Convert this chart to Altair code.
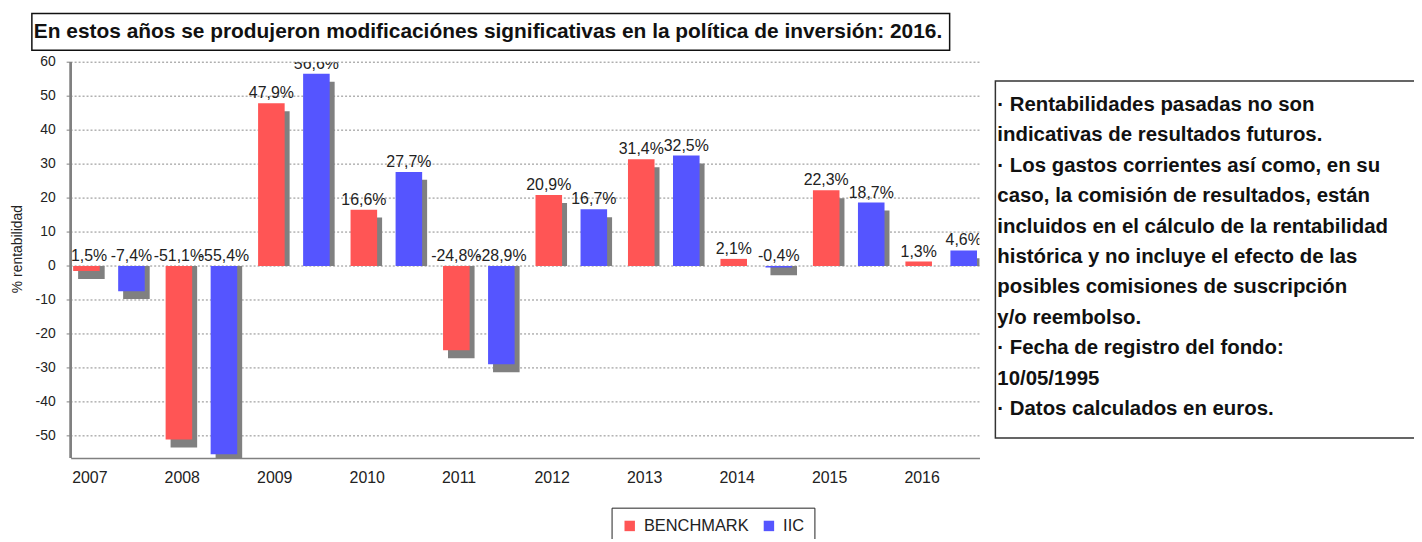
import altair as alt
import pandas as pd

# ---- data ----
years = ["2007", "2008", "2009", "2010", "2011", "2012", "2013", "2014", "2015", "2016"]
benchmark = [-1.5, -51.1, 47.9, 16.6, -24.8, 20.9, 31.4, 2.1, 22.3, 1.3]
iic = [-7.4, -55.4, 56.6, 27.7, -28.9, 16.7, 32.5, -0.4, 18.7, 4.6]
series_names = ["BENCHMARK", "IIC"]
series_colors = ["#FF5555", "#5555FF"]
y_ticks = [-50, -40, -30, -20, -10, 0, 10, 20, 30, 40, 50, 60]
y_title = "% rentabilidad"
title_text = "En estos años se produjeron modificaciónes significativas en la política de inversión: 2016."
notes = [
    "· Rentabilidades pasadas no son",
    "\u00a0indicativas de resultados futuros.",
    "· Los gastos corrientes así como, en su",
    "caso, la comisión de resultados, están",
    "\u00a0incluidos en el cálculo de la rentabilidad",
    "\u00a0histórica y no incluye el efecto de las",
    "\u00a0posibles comisiones de suscripción",
    "y/o reembolso.",
    "· Fecha de registro del fondo:",
    "\u00a010/05/1995",
    "· Datos calculados en euros.",
]

rows = []
for yr, b, i in zip(years, benchmark, iic):
    rows.append({"year": yr, "series": series_names[0], "value": b})
    rows.append({"year": yr, "series": series_names[1], "value": i})
df = pd.DataFrame(rows)
ticks_df = pd.DataFrame({"tick": y_ticks})

FONT = "Liberation Sans"
AXIS_GRAY = "#808080"

yscale = alt.Scale(domain=[-56.5, 60], nice=False, zero=False)
x_enc = alt.X(
    "year:N", sort=years,
    scale=alt.Scale(paddingInner=0.226, paddingOuter=0.027),
    axis=alt.Axis(title=None, labelAlign="left", labelAngle=0, labelOffset=-37,
                  ticks=False, labelPadding=12, labelFontSize=16, grid=False,
                  labelFont=FONT, labelColor="#222", domainColor=AXIS_GRAY, domainWidth=1.5),
)
xo_main = alt.XOffset("series:N", sort=series_names,
                      scale=alt.Scale(type="band", paddingInner=0.41, paddingOuter=0, range=[0, 72]))
xo_shadow = alt.XOffset("series:N", sort=series_names,
                        scale=alt.Scale(type="band", paddingInner=0.41, paddingOuter=0, range=[5, 77]))

# ---- y axis pieces, placed through the y scale ----
tick_y = alt.Y("tick:Q", scale=yscale, axis=None)
grid = alt.Chart(ticks_df).mark_rule(color="#8a8a8a", strokeDash=[2, 2], strokeWidth=1).encode(
    y=tick_y, x=alt.value(0), x2=alt.value(914))
tick_marks = alt.Chart(ticks_df).mark_rule(color=AXIS_GRAY, strokeWidth=1).encode(
    y=tick_y, x=alt.value(-4), x2=alt.value(0))
tick_labels = alt.Chart(ticks_df).mark_text(align="right", baseline="middle", fontSize=14,
                                            font=FONT, color="#222").encode(
    y=tick_y, x=alt.value(-15), text="tick:N")
y_domain = alt.Chart(ticks_df).mark_rule(color=AXIS_GRAY, strokeWidth=1.5).encode(
    x=alt.value(0), y=alt.value(0), y2=alt.value(398))
y_title_df = pd.DataFrame({"t": [y_title]})
y_title_txt = alt.Chart(y_title_df).mark_text(angle=270, align="center", baseline="middle",
                                              fontSize=14, font=FONT, color="#222").encode(
    x=alt.value(-53), y=alt.value(188), text="t:N")

shadow = alt.Chart(df).transform_calculate(
    send="datum.value < 0 ? datum.value - 2.34 : max(datum.value - 2.34, 0)"
).mark_bar(color="#808080", clip=True).encode(
    x=x_enc, xOffset=xo_shadow,
    y=alt.Y("send:Q", scale=yscale, axis=None),
    y2=alt.datum(0),
)

bars = alt.Chart(df).mark_bar(clip=True).encode(
    x=x_enc, xOffset=xo_main,
    y=alt.Y("value:Q", scale=yscale, axis=None),
    y2=alt.datum(0),
    color=alt.Color("series:N", scale=alt.Scale(domain=series_names, range=series_colors),
                    legend=alt.Legend(title=None, orient="none", legendX=544, legendY=448,
                                      direction="horizontal", symbolType="square",
                                      symbolSize=110, symbolStrokeWidth=0,
                                      labelFontSize=16.5, labelFont=FONT, labelColor="#222",
                                      strokeColor="#222", padding=10, fillColor="white",
                                      columnPadding=12, labelOffset=6)),
)

labels = alt.Chart(df).transform_calculate(
    lab="replace(replace(format(datum.value, '.1f'), '.', ','), '\u2212', '-') + '%'",
    ly="max(datum.value, 0)",
).mark_text(baseline="bottom", dy=-2, fontSize=16, font=FONT, color="#222", clip=True).encode(
    x=x_enc, xOffset=xo_main,
    y=alt.Y("ly:Q", scale=yscale, axis=None),
    text="lab:N",
)

one = pd.DataFrame({"t": [title_text]})
title_box = alt.Chart(one).mark_rect(fillOpacity=0, stroke="#111", strokeWidth=1.5).encode(
    x=alt.value(-39), x2=alt.value(884), y=alt.value(-49), y2=alt.value(-12))
title_txt = alt.Chart(one).mark_text(align="left", baseline="middle", fontSize=21,
                                     fontWeight="bold", font=FONT, color="#111").encode(
    x=alt.value(-37), y=alt.value(-30), text="t:N")

notes_box = alt.Chart(one).mark_rect(fillOpacity=0, stroke="#333", strokeWidth=1.5).encode(
    x=alt.value(930), x2=alt.value(1500), y=alt.value(19), y2=alt.value(378))
notes_txt = alt.Chart(one).mark_text(align="left", baseline="middle", fontSize=20.5,
                                     fontWeight="bold", font=FONT, color="#111",
                                     lineHeight=30.6).encode(
    x=alt.value(932), y=alt.value(43), text=alt.value(notes))

plot = alt.layer(grid, tick_marks, tick_labels, shadow, bars, labels).resolve_scale(
    xOffset="independent")

chart = alt.layer(plot, y_domain, y_title_txt, title_box, title_txt, notes_box, notes_txt).properties(
    width=914, height=398,
    padding={"left": 63, "top": 53, "right": 437, "bottom": 80},
    autosize=alt.AutoSizeParams(type="none"),
).configure(
    background="white"
).configure_view(
    strokeWidth=0
)

chart.save("out.html", embed_options={"renderer": "svg", "actions": False})
